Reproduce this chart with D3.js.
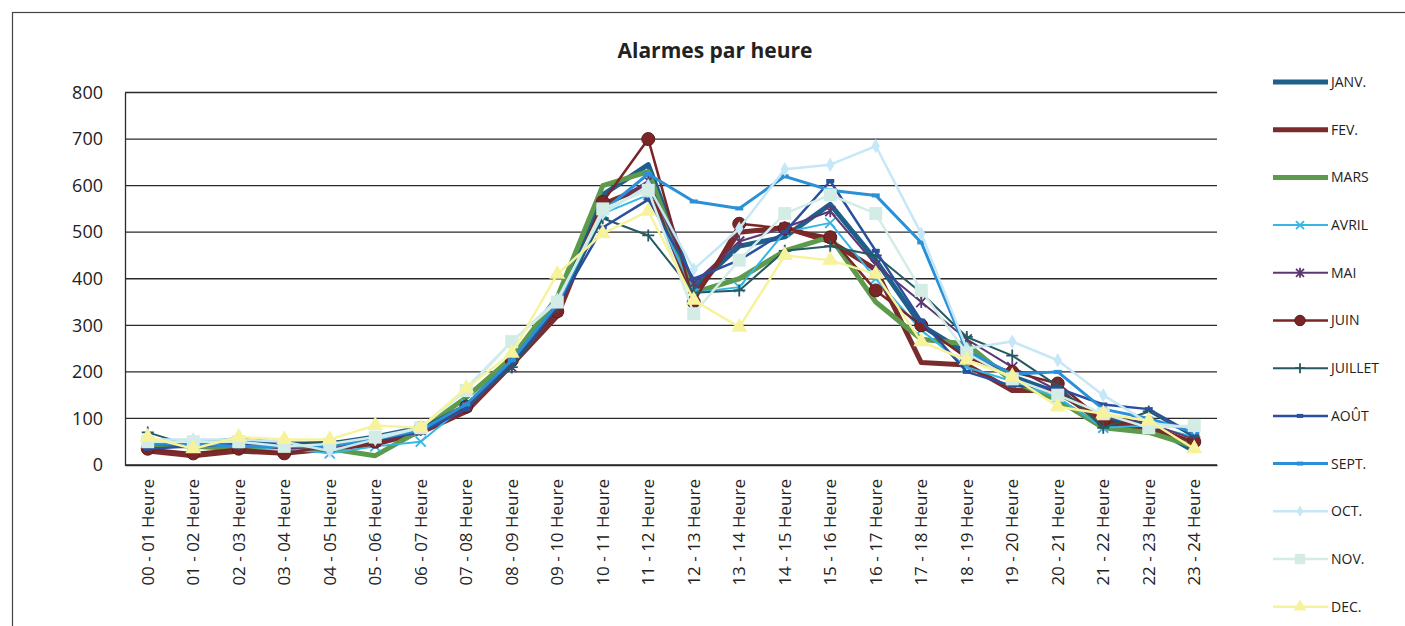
<!DOCTYPE html>
<html>
<head>
<meta charset="utf-8">
<script src="https://cdn.jsdelivr.net/npm/d3@7"></script>
<style>
  html, body { margin: 0; padding: 0; background: #fff; }
  svg { display: block; font-family: "Open Sans", "Noto Sans", sans-serif; }
</style>
</head>
<body>
<svg id="chart" width="1405" height="626"></svg>
<script>
// Hour slots on the x axis
const hours = ["00 - 01 Heure","01 - 02 Heure","02 - 03 Heure","03 - 04 Heure","04 - 05 Heure","05 - 06 Heure",
  "06 - 07 Heure","07 - 08 Heure","08 - 09 Heure","09 - 10 Heure","10 - 11 Heure","11 - 12 Heure",
  "12 - 13 Heure","13 - 14 Heure","14 - 15 Heure","15 - 16 Heure","16 - 17 Heure","17 - 18 Heure",
  "18 - 19 Heure","19 - 20 Heure","20 - 21 Heure","21 - 22 Heure","22 - 23 Heure","23 - 24 Heure"];

const yTicks = [0, 100, 200, 300, 400, 500, 600, 700, 800];

// Alarm counts per hour, one array per month
const janv    = [40,45,55,45,45,60,80,125,225,350,580,645,380,470,490,560,440,300,240,190,155,100,85,30];
const fev     = [30,20,30,25,35,45,70,115,215,320,560,600,360,500,510,480,420,220,215,160,160,90,75,45];
const mars    = [45,40,35,40,35,20,75,145,230,360,600,630,370,400,460,490,350,270,260,180,140,80,70,40];
const avril   = [50,50,40,35,25,40,50,130,225,340,540,580,370,382,500,520,400,290,210,180,145,80,85,60];
const mai     = [45,40,45,35,40,50,75,125,210,330,550,610,390,480,510,545,430,350,270,210,160,105,90,55];
const juin    = [35,25,35,25,40,50,80,125,225,330,565,700,350,518,508,489,375,300,230,200,175,95,85,50];
const juillet = [70,40,45,45,50,55,80,130,210,340,530,493,370,375,460,470,450,370,275,235,170,80,115,60];
const aout    = [35,40,45,45,40,55,70,120,220,340,510,570,400,440,500,610,460,310,200,170,165,130,120,65];
const sept    = [45,45,40,40,40,55,75,130,225,345,545,625,566,551,620,590,579,478,245,195,200,120,100,70];
const oct     = [55,55,55,50,30,55,80,165,265,355,540,600,420,508,635,645,685,497,250,265,225,150,90,80];
const nov     = [50,50,50,40,45,60,80,160,265,350,550,590,325,440,540,580,540,375,240,185,150,110,80,85];
const dec     = [60,35,60,55,55,85,80,165,240,410,497,545,354,296,450,440,410,265,225,190,125,110,95,35];

const months = ["JANV.","FEV.","MARS","AVRIL","MAI","JUIN","JUILLET","AOÛT","SEPT.","OCT.","NOV.","DEC."];
const values = [janv, fev, mars, avril, mai, juin, juillet, aout, sept, oct, nov, dec];

// Line look for each month: colour, width, marker
const styles = [
  {color:"#1f5f8c", width:5,   marker:"none"},
  {color:"#7a2c2c", width:5,   marker:"none"},
  {color:"#5c9a4c", width:5,   marker:"none"},
  {color:"#35b6e4", width:2,   marker:"x"},
  {color:"#5c3872", width:2,   marker:"star"},
  {color:"#7b2626", width:2.5, marker:"circle"},
  {color:"#255a62", width:2,   marker:"plus"},
  {color:"#2a4f9c", width:2.5, marker:"dash"},
  {color:"#2a90d8", width:3,   marker:"dash"},
  {color:"#c6e7f6", width:2.5, marker:"diamond"},
  {color:"#d3ede6", width:2.5, marker:"square"},
  {color:"#f6f39c", width:2.5, marker:"triangle"}
];

const svg = d3.select("#chart");

// outer frame
svg.append("rect")
  .attr("x", 12.5).attr("y", 12.5).attr("width", 1400).attr("height", 640)
  .attr("fill", "none").attr("stroke", "#444").attr("stroke-width", 1.2);

const plot = {left: 125, right: 1217, top: 92.5, bottom: 465};

const x = d3.scaleBand().domain(hours).range([plot.left, plot.right]);
const y = d3.scaleLinear().domain([0, 800]).range([plot.bottom, plot.top]);

// title
svg.append("text")
  .attr("x", 715).attr("y", 58)
  .attr("text-anchor", "middle")
  .attr("font-size", 21).attr("font-weight", "bold").attr("fill", "#222")
  .text("Alarmes par heure");

// horizontal gridlines
svg.append("g")
  .selectAll("line").data(yTicks).join("line")
  .attr("x1", plot.left).attr("x2", plot.right)
  .attr("y1", d => y(d)).attr("y2", d => y(d))
  .attr("stroke", "#2a2a2a").attr("stroke-width", 1.3);

// y axis
const yAxis = svg.append("g")
  .attr("transform", `translate(${plot.left},0)`)
  .call(d3.axisLeft(y).tickValues(yTicks).tickSize(0).tickPadding(22));
yAxis.select(".domain").attr("stroke", "#2a2a2a").attr("stroke-width", 1.3);
yAxis.selectAll("text").attr("font-size", 18).attr("fill", "#222")
  .attr("font-family", "'Open Sans', sans-serif");

// x axis
const xAxis = svg.append("g")
  .attr("transform", `translate(0,${plot.bottom})`)
  .call(d3.axisBottom(x).tickSize(0));
xAxis.select(".domain").attr("stroke", "#2a2a2a").attr("stroke-width", 1.3);
xAxis.selectAll("text")
  .attr("font-size", 17).attr("fill", "#222")
  .attr("font-family", "'Open Sans', sans-serif")
  .attr("transform", "rotate(-90)")
  .attr("text-anchor", "end")
  .attr("dx", "-14").attr("dy", "0.35em")
  .attr("x", 0).attr("y", 0);

const cx = h => x(h) + x.bandwidth() / 2;

// marker shapes drawn at a point; k scales them down for the legend
function drawMarker(g, type, color, px, py, k = 1) {
  const s = 5 * k;
  if (type === "x") {
    g.append("path").attr("d", `M${px-s},${py-s}L${px+s},${py+s}M${px-s},${py+s}L${px+s},${py-s}`)
      .attr("stroke", color).attr("stroke-width", 1.8).attr("fill", "none");
  } else if (type === "star") {
    g.append("path").attr("d", `M${px-s},${py-s}L${px+s},${py+s}M${px-s},${py+s}L${px+s},${py-s}M${px},${py-s-1}L${px},${py+s+1}`)
      .attr("stroke", color).attr("stroke-width", 1.8).attr("fill", "none");
  } else if (type === "circle") {
    g.append("circle").attr("cx", px).attr("cy", py).attr("r", 6.5 * k)
      .attr("fill", color).attr("stroke", "#5a1a1a").attr("stroke-width", 1);
  } else if (type === "plus") {
    g.append("path").attr("d", `M${px-s-1},${py}L${px+s+1},${py}M${px},${py-s-1}L${px},${py+s+1}`)
      .attr("stroke", color).attr("stroke-width", 1.8).attr("fill", "none");
  } else if (type === "dash") {
    g.append("path").attr("d", `M${px-4*k},${py}L${px+4*k},${py}`)
      .attr("stroke", color).attr("stroke-width", 4).attr("fill", "none");
  } else if (type === "diamond") {
    g.append("path").attr("d", d3.symbol(d3.symbolDiamond, 60 * k * k)()).attr("transform", `translate(${px},${py})`)
      .attr("fill", color);
  } else if (type === "square") {
    g.append("rect").attr("x", px-6.5*k).attr("y", py-6.5*k).attr("width", 13*k).attr("height", 13*k)
      .attr("fill", color);
  } else if (type === "triangle") {
    g.append("path").attr("d", d3.symbol(d3.symbolTriangle, 110 * k * k)()).attr("transform", `translate(${px},${py})`)
      .attr("fill", color);
  }
}

const line = d3.line().x((d, i) => cx(hours[i])).y(d => y(d));

const series = svg.append("g");
values.forEach((vals, k) => {
  const st = styles[k];
  const g = series.append("g");
  g.append("path").datum(vals)
    .attr("d", line)
    .attr("fill", "none")
    .attr("stroke", st.color)
    .attr("stroke-width", st.width)
    .attr("stroke-linejoin", "round");
  if (st.marker !== "none") {
    vals.forEach((v, i) => drawMarker(g, st.marker, st.color, cx(hours[i]), y(v)));
  }
});

// legend
const legend = svg.append("g");
months.forEach((m, k) => {
  const st = styles[k];
  const ly = 82 + k * 47.7;
  const g = legend.append("g");
  g.append("line").attr("x1", 1273).attr("x2", 1328).attr("y1", ly).attr("y2", ly)
    .attr("stroke", st.color).attr("stroke-width", st.width);
  if (st.marker !== "none") drawMarker(g, st.marker, st.color, 1300, ly, 0.8);
  g.append("text").attr("x", 1331).attr("y", ly).attr("dy", "0.35em")
    .attr("font-size", 14).attr("fill", "#222").text(m);
});
</script>
</body>
</html>
